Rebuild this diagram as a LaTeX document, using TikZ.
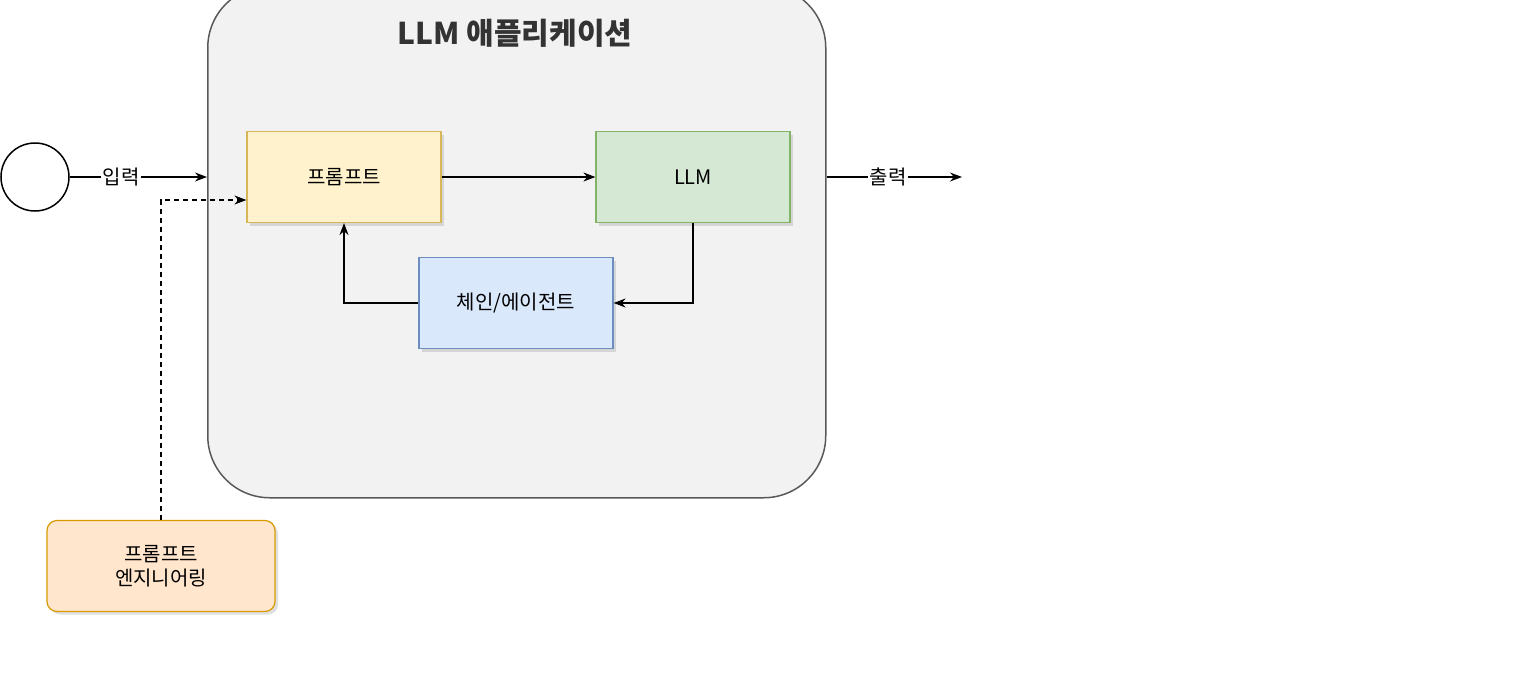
\documentclass[tikz,border=0pt]{standalone}
\usepackage{fontspec}
\setmainfont{Noto Sans CJK KR}
\usetikzlibrary{arrows.meta,shadows}
\begin{document}
\begin{tikzpicture}[x=1pt,y=-1pt,
 box/.style={draw,line width=1.2pt,minimum width=194pt,minimum height=91pt,font=\fontsize{20}{24}\selectfont,drop shadow={shadow xshift=3pt,shadow yshift=-3pt,opacity=0.25}},
 arr/.style={-{Stealth[length=12pt,width=9pt]},line width=1.3pt},
 lbl/.style={font=\fontsize{20}{24}\selectfont,inner sep=1pt}]
\useasboundingbox (0,0) rectangle (1536,688);
\definecolor{bg}{HTML}{F2F2F2}
\node[draw=black!65,fill=bg,line width=1.5pt,rounded corners=62pt,minimum width=618pt,minimum height=512pt,anchor=north west] (app) at (207,-15) {};
\node[font=\bfseries\fontsize{30}{36}\selectfont,text=black!80] (title) at (515,33) {LLM 애플리케이션};
\node[box,fill={rgb,255:red,255;green,242;blue,204},draw={rgb,255:red,214;green,182;blue,86}] (p) at (344,177) {프롬프트};
\node[box,fill={rgb,255:red,213;green,232;blue,212},draw={rgb,255:red,130;green,179;blue,102}] (llm) at (693,177) {LLM};
\node[box,fill={rgb,255:red,218;green,232;blue,252},draw={rgb,255:red,108;green,142;blue,191}] (c) at (516,303) {체인/에이전트};
\node[box,rounded corners=10pt,minimum width=228pt,fill={rgb,255:red,255;green,230;blue,204},draw={rgb,255:red,215;green,155;blue,0},align=center] (pe) at (161,566) {프롬프트\\엔지니어링};
\node[draw,line width=1.5pt,circle,minimum size=68pt,inner sep=0] (in) at (35,177) {};
\node[lbl] (inl) at (121,177) {입력};
\coordinate (ina) at (207,177);
\node[lbl] (outl) at (888,177) {출력};
\coordinate (outa) at (962,177);
\draw[line width=1.3pt] (in) -- (inl);
\draw[arr] (inl) -- (ina);
\draw[line width=1.3pt] (app.east |- outl) -- (outl);
\draw[arr] (outl) -- (outa);
\draw[arr] (p) -- (llm);
\draw[arr] (llm.south) |- (c.east);
\draw[arr] (c.west) -| (p.south);
\draw[arr,dashed,line width=1.2pt,dash pattern=on 5pt off 4pt] (pe.north) |- ([yshift=-23pt]p.west);
\end{tikzpicture}
\end{document}
